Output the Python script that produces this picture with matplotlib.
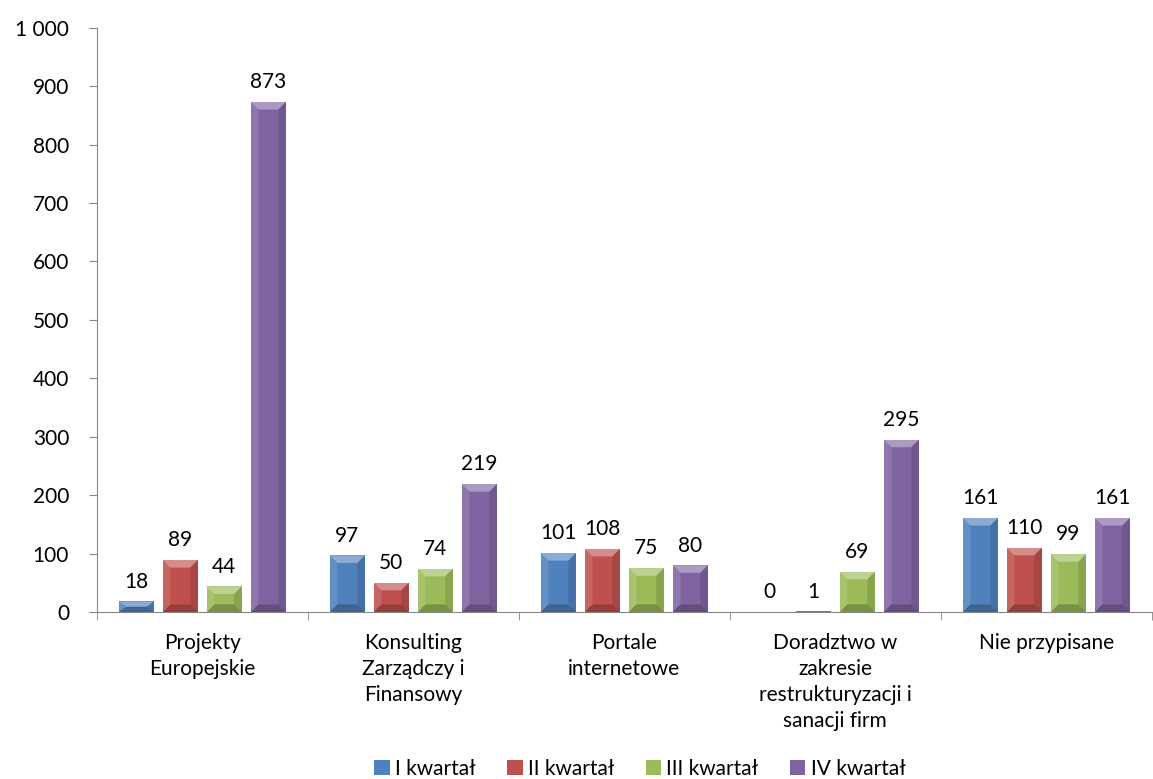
import numpy as np
import matplotlib.pyplot as plt
from matplotlib.patches import Polygon
from matplotlib.ticker import FuncFormatter

kategorie = ["Projekty\nEuropejskie", "Konsulting\nZarządczy i\nFinansowy", "Portale\ninternetowe",
             "Doradztwo w\nzakresie\nrestrukturyzacji i\nsanacji firm", "Nie przypisane"]
serie = ["I kwartał", "II kwartał", "III kwartał", "IV kwartał"]
kwartal_1 = [18, 97, 101, 0, 161]
kwartal_2 = [89, 50, 108, 1, 110]
kwartal_3 = [44, 74, 75, 69, 99]
kwartal_4 = [873, 219, 80, 295, 161]
kolory = ["#4F81BD", "#C0504D", "#9BBB59", "#8064A2"]

plt.rcParams['font.family'] = ['Lato', 'DejaVu Sans']

fig = plt.figure(figsize=(11.53, 7.79), dpi=100)
ax = fig.add_axes([0.084, 0.2144, 0.915, 0.75])

x = np.arange(len(kategorie))
szer = 0.166
krok = 0.2085
dx, dy = 0.036, 13  # glebokosc skosu w jednostkach danych


def skos(ax, b):
    # efekt "piramidy" jak w Excelu: 4 trapezy nalozone na slupek
    x0, w, h = b.get_x(), b.get_width(), b.get_height()
    if h <= 0:
        return
    x1 = x0 + w
    ey = min(dy, h / 2)
    ex = min(dx, w / 2)
    gora = [(x0, h), (x1, h), (x1 - ex, h - ey), (x0 + ex, h - ey)]
    dol = [(x0, 0), (x1, 0), (x1 - ex, ey), (x0 + ex, ey)]
    lewo = [(x0, 0), (x0, h), (x0 + ex, h - ey), (x0 + ex, ey)]
    prawo = [(x1, 0), (x1, h), (x1 - ex, h - ey), (x1 - ex, ey)]
    for pts, kol, a in [(gora, 'white', 0.35), (lewo, 'white', 0.12),
                        (prawo, 'black', 0.12), (dol, 'black', 0.22)]:
        ax.add_patch(Polygon(pts, closed=True, facecolor=kol, alpha=a, linewidth=0, zorder=4))


for i, (wart, kol) in enumerate(zip([kwartal_1, kwartal_2, kwartal_3, kwartal_4], kolory)):
    pos = x + (i - 1.5) * krok
    barras = ax.bar(pos, wart, width=szer, color=kol, linewidth=0, label=serie[i], zorder=3)
    for b in barras:
        skos(ax, b)
    ax.bar_label(barras, fontsize=15, padding=7, color='black')

ax.set_xlim(-0.5, 4.5)
ax.set_ylim(0, 1000)
ax.set_yticks(range(0, 1001, 100))
ax.yaxis.set_major_formatter(FuncFormatter(lambda v, p: f"{int(v):,}".replace(",", " ")))
ax.set_xticks(x)
ax.set_xticklabels(kategorie, fontsize=15, linespacing=1.38, va='top')
ax.set_xticks(np.arange(-0.5, 4.6, 1), minor=True)
ax.tick_params(axis='x', which='major', length=0, pad=15)
ax.tick_params(axis='x', which='minor', length=6, color='#868686')
ax.tick_params(axis='y', labelsize=15, length=6, color='#868686', pad=14)

for s in ['top', 'right']:
    ax.spines[s].set_visible(False)
ax.spines['left'].set_color('#868686')
ax.spines['bottom'].set_color('#868686')

fig.legend(loc='lower center', ncol=4, bbox_to_anchor=(0.555, -0.024), frameon=False, fontsize=15,
           handlelength=0.75, handleheight=0.75, handletextpad=0.25, columnspacing=1.5)

fig.savefig("out.png", dpi=100)
